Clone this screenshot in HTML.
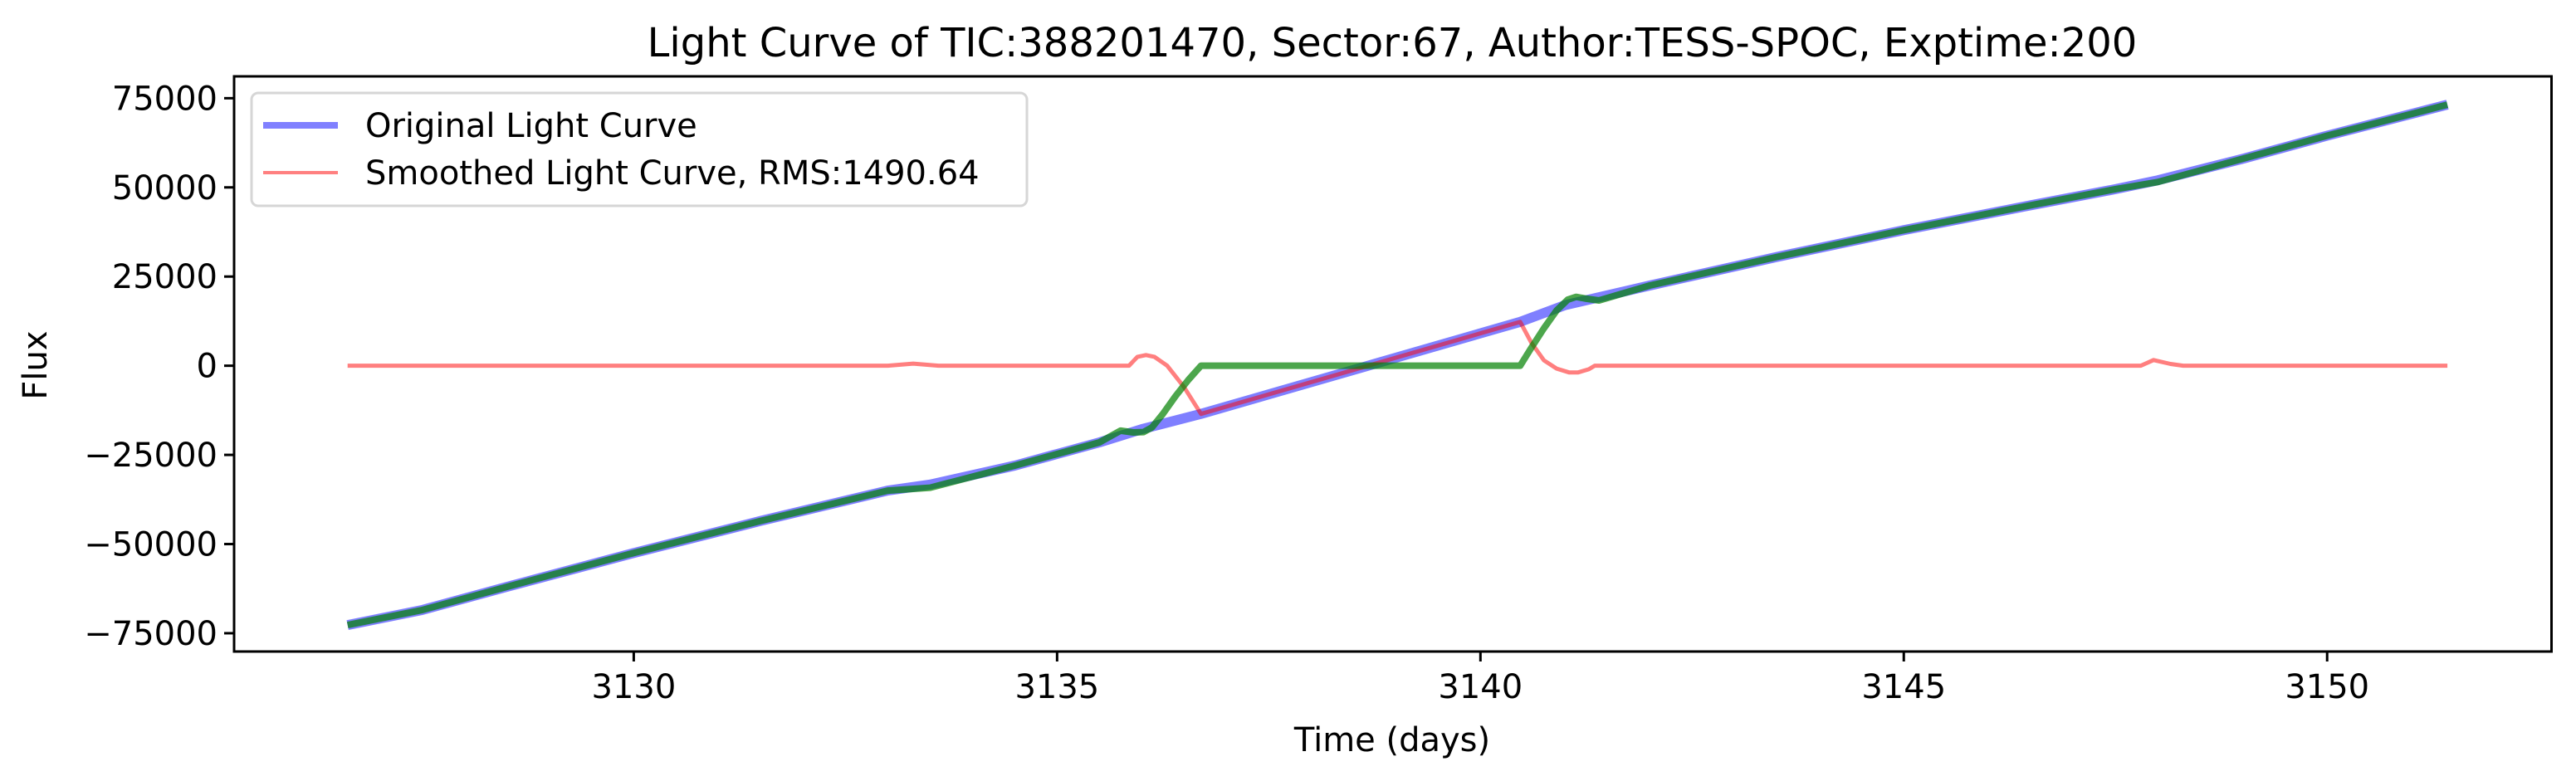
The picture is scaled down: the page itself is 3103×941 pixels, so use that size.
<!DOCTYPE html>
<html><head><meta charset="utf-8"><style>
html,body{margin:0;padding:0;background:#fff;}
svg{display:block;font-family:"DejaVu Sans","Liberation Sans",sans-serif;}
</style></head><body>
<svg id="chart" width="3103" height="941" viewBox="0 0 3103 941" xmlns="http://www.w3.org/2000/svg">
<rect x="0" y="0" width="3103" height="941" fill="#fff"/>
<text x="1677" y="68" font-size="48" text-anchor="middle">Light Curve of TIC:388201470, Sector:67, Author:TESS-SPOC, Exptime:200</text>
<g id="series"></g>
<g id="axes"></g>
<text x="1677" y="905" font-size="40" text-anchor="middle">Time (days)</text>
<text x="0" y="0" font-size="40" text-anchor="middle" transform="translate(56,440) rotate(-90)">Flux</text>
<g>
<rect x="303" y="112" width="934" height="136" rx="8" fill="#fff" fill-opacity="0.8" stroke="#d6d6d6" stroke-width="3"/>
<line x1="317" y1="151" x2="407" y2="151" stroke="#8080ff" stroke-width="8"/>
<text x="440" y="165" font-size="40">Original Light Curve</text>
<line x1="317" y1="208" x2="407" y2="208" stroke="#ff8080" stroke-width="4"/>
<text x="440" y="222" font-size="40">Smoothed Light Curve, RMS:1490.64</text>
</g>
</svg>
<script>
// data
const xTicks = [3130, 3135, 3140, 3145, 3150];
const yTicks = [-75000, -50000, -25000, 0, 25000, 50000, 75000];
const yTickLabels = ["\u221275000", "\u221250000", "\u221225000", "0", "25000", "50000", "75000"];
const origTime = [3126.62, 3127.5, 3128.5, 3130, 3131.5, 3133.0, 3133.5, 3134.5, 3135.5, 3136.0, 3136.7, 3140.47, 3141.0, 3142.0, 3143.5, 3145.0, 3146.5, 3147.5, 3148.0, 3149.0, 3150.0, 3151.42];
const origFlux = [-72700, -68500, -62000, -52500, -43500, -35000, -33300, -28000, -21500, -17800, -13500, 12300, 17000, 22500, 30500, 38000, 45000, 49500, 52000, 58000, 64500, 73200];
const smoothTime = [3126.62, 3127.5, 3128.5, 3130, 3131.5, 3133.0, 3133.5, 3134.5, 3135.5, 3135.75, 3135.9, 3136.02, 3136.12, 3136.25, 3136.4, 3136.55, 3136.7, 3140.47, 3140.6, 3140.75, 3140.9, 3141.03, 3141.13, 3141.25, 3141.4, 3142.0, 3143.5, 3145.0, 3146.5, 3147.5, 3148.0, 3149.0, 3150.0, 3151.42];
const smoothFlux = [-72700, -68500, -62000, -52500, -43500, -35000, -34200, -28000, -21500, -18200, -18700, -18600, -17300, -13500, -8500, -4000, 0, 0, 5000, 10500, 15500, 18500, 19300, 18800, 18300, 22500, 30500, 38000, 45000, 49500, 51500, 58000, 64500, 73200];
const residTime = [3126.62, 3133.0, 3133.3, 3133.6, 3135.85, 3135.95, 3136.05, 3136.15, 3136.3, 3136.5, 3136.7, 3140.47, 3140.6, 3140.75, 3140.9, 3141.05, 3141.15, 3141.28, 3141.35, 3147.8, 3147.95, 3148.15, 3148.3, 3151.42];
const residFlux = [0, 0, 600, 0, 0, 2500, 3000, 2500, 0, -6000, -13500, 12300, 6500, 1500, -800, -1900, -1900, -1000, 0, 0, 1600, 500, 0, 0];

const NS = "http://www.w3.org/2000/svg";
const L = 282, R = 3073.5, T = 92, B = 785;
const xMin = 3125.28, xMax = 3152.65;
const yMin = -80130, yMax = 81130;
function sx(v){ return L + (v - xMin) / (xMax - xMin) * (R - L); }
function sy(v){ return B - (v - yMin) / (yMax - yMin) * (B - T); }
function pts(ts, fs){ return ts.map((t,i)=> sx(t).toFixed(1)+","+sy(fs[i]).toFixed(1)).join(" "); }

const series = document.getElementById("series");
const axes = document.getElementById("axes");

const pOrig = document.createElementNS(NS, "polyline");
pOrig.setAttribute("points", pts(origTime, origFlux));
pOrig.setAttribute("fill", "none");
pOrig.setAttribute("stroke", "#0000ff");
pOrig.setAttribute("stroke-opacity", "0.5");
pOrig.setAttribute("stroke-width", "12");
pOrig.setAttribute("stroke-linejoin", "round");


series.appendChild(pOrig);

const pRes = document.createElementNS(NS, "polyline");
pRes.setAttribute("points", pts(residTime, residFlux));
pRes.setAttribute("fill", "none");
pRes.setAttribute("stroke", "#ff0000");
pRes.setAttribute("stroke-opacity", "0.5");
pRes.setAttribute("stroke-width", "5");
pRes.setAttribute("stroke-linejoin", "round");


series.appendChild(pRes);

const pSm = document.createElementNS(NS, "polyline");
pSm.setAttribute("points", pts(smoothTime, smoothFlux));
pSm.setAttribute("fill", "none");
pSm.setAttribute("stroke", "#008000");
pSm.setAttribute("stroke-opacity", "0.7");
pSm.setAttribute("stroke-width", "8");
pSm.setAttribute("stroke-linejoin", "round");


series.appendChild(pSm);

const frame = document.createElementNS(NS, "rect");
frame.setAttribute("x", L); frame.setAttribute("y", T);
frame.setAttribute("width", R - L); frame.setAttribute("height", B - T);
frame.setAttribute("fill", "none"); frame.setAttribute("stroke", "#000"); frame.setAttribute("stroke-width", "3");


axes.appendChild(frame);

xTicks.forEach(v => {
  const x = sx(v);
  const tk = document.createElementNS(NS, "line");
  tk.setAttribute("x1", x); tk.setAttribute("x2", x);
  tk.setAttribute("y1", B); tk.setAttribute("y2", B + 12);
  tk.setAttribute("stroke", "#000"); tk.setAttribute("stroke-width", "3");
  
  
  axes.appendChild(tk);
  const tx = document.createElementNS(NS, "text");
  tx.setAttribute("x", x); tx.setAttribute("y", B + 56);
  tx.setAttribute("font-size", "40"); tx.setAttribute("text-anchor", "middle");
  tx.textContent = String(v);
  
  
  axes.appendChild(tx);
});
yTicks.forEach((v, i) => {
  const y = sy(v);
  const tk = document.createElementNS(NS, "line");
  tk.setAttribute("x1", L - 12); tk.setAttribute("x2", L);
  tk.setAttribute("y1", y); tk.setAttribute("y2", y);
  tk.setAttribute("stroke", "#000"); tk.setAttribute("stroke-width", "3");
  
  
  axes.appendChild(tk);
  const tx = document.createElementNS(NS, "text");
  tx.setAttribute("x", L - 20); tx.setAttribute("y", y + 14);
  tx.setAttribute("font-size", "40"); tx.setAttribute("text-anchor", "end");
  tx.textContent = yTickLabels[i];
  
  
  axes.appendChild(tx);
});
</script>
</body></html>
